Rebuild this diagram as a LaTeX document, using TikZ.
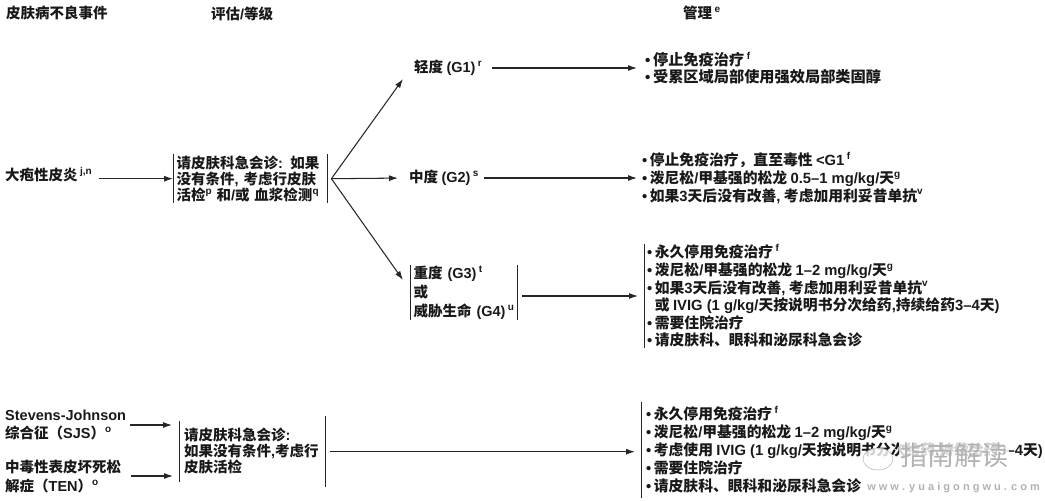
\documentclass[tikz,border=0pt]{standalone}
\usepackage{fontspec}
\setmainfont{Noto Sans CJK SC}
\newfontfamily\lat{Liberation Sans}
\usetikzlibrary{arrows.meta,positioning}
\newcommand{\la}[1]{{\lat #1}}
\newcommand{\sps}[1]{\raisebox{.42em}{\fontsize{10}{10}\selectfont\lat #1}}
\newcommand{\bul}{\la{\textbullet}\,}

\begin{document}
\begin{tikzpicture}[
    x=1pt, y=-1pt,
    lbl/.style={font=\bfseries\fontsize{14.5}{17}\selectfont, anchor=west, inner sep=1pt, align=left, text=black!90},
    barbox/.style={lbl, anchor=north west, inner xsep=3.5pt, inner ysep=0pt},
    mgmt/.style={lbl, inner ysep=0pt, font=\bfseries\fontsize{14.8}{17.6}\selectfont},
    bar/.style={line width=1pt, black!85},
    arr/.style={-{Latex[length=9pt,width=6pt]}, line width=1.05pt, black!85},
    wmark/.style={black!30, line width=.5pt, fill=white, fill opacity=.8}
]
    \useasboundingbox (0,0) rectangle (1045,501);

    % Column headers
    \node[lbl] (hevent) at (5,13) {皮肤病不良事件};
    \node[lbl] (hgrade) at (210,14) {评估\la{/}等级};
    \node[lbl] (hmanage) at (682,13) {管理\,\sps{e}};

    % Upper pathway: events and assessment
    \node[lbl] (blister) at (4,175) {大疱性皮炎\,\sps{j,n}};
    \node[barbox, text width=147pt, minimum height=49pt] (assess) at (173,154)
        {请皮肤科急会诊\la{:} 如果\\[-1pt] 没有条件\la{,} 考虑行皮肤\\[-1pt] 活检\sps{p} 和\la{/}或 血浆检测\sps{q}};
    \draw[bar] (assess.north west) -- (assess.south west);
    \draw[bar] (assess.north east) -- (assess.south east);
    \draw[arr, shorten <=6pt] (blister.east |- assess.west) -- (assess.west);

    % Grades
    \coordinate (fork) at ([xshift=4pt]assess.east);
    \coordinate (g1tip) at (403,79);
    \coordinate (g3tip) at (403,280);
    \node[lbl] (g1) at (413,68) {轻度 \la{(G1)}\,\sps{r}};
    \node[lbl] (g2) at (408,178) {中度 \la{(G2)}\,\sps{s}};
    \node[barbox, text width=100pt, minimum height=55pt] (g3) at (410,265)
        {重度 \la{(G3)}\,\sps{t}\\[2pt] 或\\[2pt] \mbox{威胁生命 \la{(G4)}\,\sps{u}}};
    \draw[bar] (g3.north west) -- (g3.south west);
    \draw[bar] (g3.north east) -- (g3.south east);
    \draw[arr] (fork) -- (g1tip);
    \draw[arr, shorten >=10pt] (fork) -- (g2.west);
    \draw[arr] (fork) -- (g3tip);

    % Management of upper pathway
    \node[mgmt, inner xsep=8pt, font=\bfseries\fontsize{15.2}{16.5}\selectfont] (m1) at (637,68) {\bul 停止免疫治疗\,\sps{f}\\ \bul 受累区域局部使用强效局部类固醇};
    \node[mgmt, inner xsep=5pt] (m2) at (637,178) {\bul 停止免疫治疗，直至毒性 \la{<G1}\,\sps{f}\\
        \bul 泼尼松\la{/}甲基强的松龙 \la{0.5–1 mg/kg/}天\sps{g}\\
        \bul 如果\la{3}天后没有改善\la{,} 考虑加用利妥昔单抗\sps{v}};
    \node[mgmt, minimum height=102pt, inner xsep=3pt] (m3) at (644,296) {\bul 永久停用免疫治疗\,\sps{f}\\
        \bul 泼尼松\la{/}甲基强的松龙 \la{1–2 mg/kg/}天\sps{g}\\
        \bul 如果\la{3}天后没有改善\la{,} 考虑加用利妥昔单抗\sps{v}\\
        \hphantom{\bul}或 \la{IVIG (1 g/kg/}天按说明书分次给药\la{,}持续给药\la{3–4}天\la{)}\\
        \bul 需要住院治疗\\
        \bul 请皮肤科、眼科和泌尿科急会诊};
    \draw[bar] (m3.north west) -- (m3.south west);
    \draw[arr, shorten <=9pt] (g1.east) -- (g1.east -| m1.west);
    \draw[arr, shorten <=4pt] (g2.east) -- (g2.east -| m2.west);
    \draw[arr, shorten >=6pt, shorten <=5pt] (g3.east |- m3.west) -- (m3.west);

    % Lower pathway
    \node[lbl] (sjs) at (4,425) {\la{Stevens-Johnson}\\[1pt] 综合征（\la{SJS}）\sps{o}};
    \node[lbl] (ten) at (4,476.5) {中毒性表皮坏死松\\[2pt] 解症（\la{TEN}）\sps{o}};
    \node[barbox, inner xsep=5pt, text width=136pt, minimum height=61pt] (assess2) at (179,421)
        {\\[-5pt]请皮肤科急会诊\la{:}\\[-1pt] 如果没有条件\la{,}考虑行\\[-1pt] 皮肤活检};
    \coordinate (assess2r) at ([yshift=-5pt]assess2.south east);
    \coordinate (assess2t) at ([yshift=5pt]assess2.north east);
    \draw[bar] (assess2.north west) -- (assess2.south west);
    \draw[bar] (assess2t) -- (assess2r);
    \draw[arr, shorten >=7pt, shorten <=3pt] (sjs.east |- 131,425) -- (assess2.west |- 131,425);
    \draw[arr, shorten >=6pt, shorten <=9pt] (ten.east |- 131,476) -- (assess2.west |- 131,476);

    \node[mgmt, minimum height=95pt, inner xsep=5pt, font=\bfseries\fontsize{14.8}{18}\selectfont] (m4) at (641,450) {\bul 永久停用免疫治疗\,\sps{f}\\
        \bul 泼尼松\la{/}甲基强的松龙 \la{1–2 mg/kg/}天\sps{g}\\
        \bul 考虑使用 \la{IVIG (1 g/kg/}天按说明书分次给药\la{,}持续给药\la{3–4}天\la{)}\\
        \bul 需要住院治疗\\
        \bul 请皮肤科、眼科和泌尿科急会诊};
    \draw[bar] (m4.north west) -- (m4.south west);
    \draw[arr, shorten >=6pt, shorten <=5pt] (assess2.east) -- (m4.west |- assess2.east);

    % Watermark
    \draw[wmark] (878,459) ellipse (15 and 11);
    \node[font=\fontsize{27}{29}\selectfont, text=black!30, fill=white, fill opacity=.8, text opacity=1, inner sep=1pt] (wm) at (954,455) {指南解读};
    \node[font=\bfseries\fontsize{11}{13}\selectfont, text=black!30, anchor=east, inner sep=0pt] (url) at (1040,488) {\la{w w w . y u a i g o n g w u . c o m}};
\end{tikzpicture}
\end{document}
